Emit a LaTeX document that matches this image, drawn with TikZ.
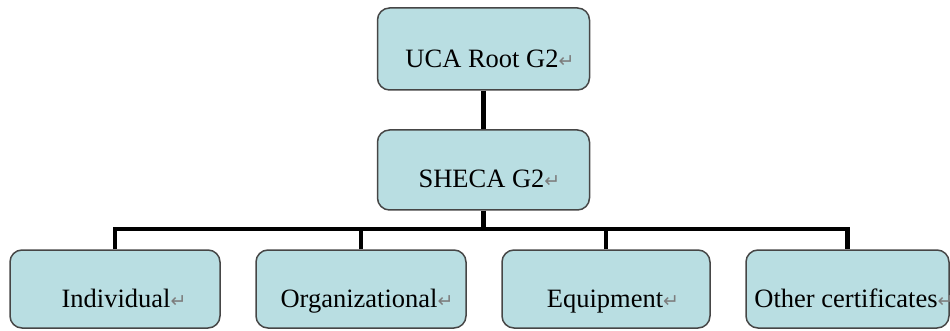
\documentclass[tikz,border=0pt]{standalone}
\usepackage{fontspec}
\setmainfont{Liberation Serif}
\newfontfamily\markfont{DejaVu Sans}
\definecolor{boxfill}{RGB}{185,222,226}
\definecolor{boxline}{RGB}{70,70,70}
\definecolor{markgray}{RGB}{125,125,125}
\newcommand{\pmark}{{\markfont\color{markgray}\fontsize{19}{19}\selectfont ↵}}
\begin{document}
\begin{tikzpicture}[x=1pt,y=-1pt,
  box/.style={draw=boxline, line width=1.5pt, fill=boxfill, rounded corners=12pt,
    inner sep=0pt, minimum height=80pt},
  lbl/.style={anchor=base, inner sep=0pt, font=\fontsize{26.5}{30}\selectfont},
  conn/.style={line width=4.2pt, black, line join=miter}]
\useasboundingbox (0,0) rectangle (950,331);
% boxes
\node[box, minimum width=212pt, minimum height=82pt] (root) at (483.5,49) {};
\node[box, minimum width=212pt] (sheca) at (483.5,170) {};
\node[box, minimum width=210pt, minimum height=78pt] (c1) at (115,289) {};
\node[box, minimum width=210pt, minimum height=78pt] (c2) at (361,289) {};
\node[box, minimum width=208pt, minimum height=78pt] (c3) at (606,289) {};
\node[box, minimum width=203pt, minimum height=78pt] (c4) at (847.5,289) {};
% labels
\node[lbl] (troot) at (490,68) {UCA Root G2\pmark};
\node[lbl] (tsheca) at (489.5,188) {SHECA G2\pmark};
\node[lbl] (tc1) at (124,307.5) {Individual\pmark};
\node[lbl] (tc2) at (367,307.5) {Organizational\pmark};
\node[lbl] (tc3) at (613,307.5) {Equipment\pmark};
\node[lbl] (tc4) at (854,307.5) {Other certificates\pmark};
% connectors
\coordinate (bus) at (483.5,229);
\draw[conn] (root.south) -- (sheca.north);
\draw[conn] (sheca.south) -- (bus);
\draw[conn] (c1.north) |- (bus) -| (c4.north);
\draw[conn] (c2.north) -- (c2.north |- bus);
\draw[conn] (c3.north) -- (c3.north |- bus);
\end{tikzpicture}
\end{document}
